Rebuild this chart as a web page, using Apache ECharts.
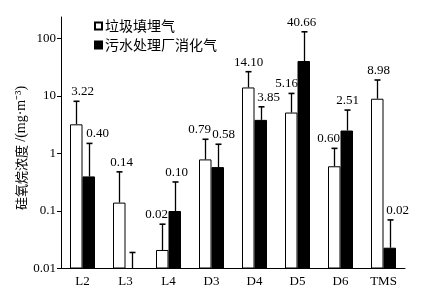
<!DOCTYPE html>
<html><head><meta charset="utf-8">
<script src="https://cdn.jsdelivr.net/npm/echarts@6/dist/echarts.min.js"></script>
<style>html,body{margin:0;padding:0;background:#fff}#c{width:424px;height:296px}</style>
</head><body><div id="c"></div>
<script>
const categories = ['L2', 'L3', 'L4', 'D3', 'D4', 'D5', 'D6', 'TMS'];
const seriesNames = ['垃圾填埋气', '污水处理厂消化气'];
const landfill = [3.22, 0.14, 0.021, 0.79, 14.10, 5.16, 0.60, 8.98];
const landfillUpper = [8.1, 0.48, 0.059, 1.77, 26.5, 11.1, 1.23, 19];
const sewage = [0.40, null, 0.10, 0.58, 3.85, 40.66, 2.51, 0.023];
const sewageUpper = [1.50, 0.019, 0.32, 1.45, 6.5, 131, 5.7, 0.070];
const yTicks = [0.01, 0.1, 1, 10, 100];
const yTickLabels = ['0.01', '0.1', '1', '10', '100'];
const yTitleCn = '硅氧烷浓度';
const yTitleUnit = '/(mg·m⁻³)';

// layout tweaks (label horizontal nudges, px)
const nudgeA = [6, 2, -6, -6, 0, -5, -6, 1];
const nudgeB = [8, 0, 1, 5, 7, -3, 0, 7];
const AXIS_MIN = 0.01, AXIS_MAX = 237;
const BAR_W = 12.5;
const SERIF = '"Liberation Serif", "Times New Roman", serif';

function errRenderer(values, side, nudge) {
  return function (params, api) {
    const i = params.dataIndex;
    const v = values[i];
    const base = (v == null) ? AXIS_MIN : v;
    const up = api.value(1);
    const p0 = api.coord([i, base]);
    const p1 = api.coord([i, up]);
    const x = Math.round(p0[0] + side * BAR_W / 2) + 0.5;
    const children = [
      {type: 'line', shape: {x1: x, y1: p0[1], x2: x, y2: p1[1]}, style: {stroke: '#000', lineWidth: 1.3}},
      {type: 'line', shape: {x1: x - 3, y1: p1[1], x2: x + 3, y2: p1[1]}, style: {stroke: '#000', lineWidth: 1.6}}
    ];
    if (v != null) {
      children.push({type: 'text', x: x + nudge[i], y: p1[1] - 3,
        style: {text: v.toFixed(2), textAlign: 'center', textVerticalAlign: 'bottom',
          fontFamily: SERIF, fontSize: 13, fill: '#000'}});
    }
    return {type: 'group', children: children};
  };
}

const chart = echarts.init(document.getElementById('c'), null, {renderer: 'canvas'});
chart.setOption({
  animation: false,
  backgroundColor: '#fff',
  grid: {left: 61, right: 19, top: 17, bottom: 27.5, containLabel: false},
  legend: {
    orient: 'vertical', left: 89, top: 14, itemWidth: 7, itemHeight: 7, itemGap: 5,
    icon: 'rect', selectedMode: false, data: seriesNames,
    textStyle: {fontFamily: '"Noto Sans CJK SC"', fontSize: 14, color: '#000', padding: [0, 0, 0, -2]}
  },
  graphic: [{
    type: 'text', x: 21, y: 148, rotation: Math.PI / 2,
    style: {
      text: '{cn|' + yTitleCn + '} {u|' + yTitleUnit + '}',
      textAlign: 'center', textVerticalAlign: 'middle', fill: '#000',
      rich: {
        cn: {fontFamily: '"Noto Sans CJK SC"', fontSize: 13, fill: '#000'},
        u: {fontFamily: SERIF, fontSize: 14, fill: '#000'}
      }
    }
  }],
  xAxis: {
    type: 'category', data: categories,
    axisLine: {lineStyle: {color: '#000', width: 1}},
    axisTick: {show: false},
    axisLabel: {color: '#000', fontFamily: SERIF, fontSize: 13, margin: 7}
  },
  yAxis: {
    type: 'log', logBase: 10, min: AXIS_MIN, max: AXIS_MAX, startValue: AXIS_MIN,
    axisLine: {show: true, lineStyle: {color: '#000', width: 1}},
    axisTick: {show: true, length: 4, lineStyle: {color: '#000'}, customValues: yTicks},
    axisLabel: {color: '#000', fontFamily: SERIF, fontSize: 13, margin: 5, customValues: yTicks,
      formatter: function (val) { const k = yTicks.findIndex(t => Math.abs(t - val) / t < 1e-6); return k >= 0 ? yTickLabels[k] : ''; }},
    splitLine: {show: false}
  },
  series: [
    {type: 'bar', name: seriesNames[0], data: landfill, barWidth: BAR_W, barGap: '0%',
      itemStyle: {color: '#fff', borderColor: '#000', borderWidth: 1}},
    {type: 'bar', name: seriesNames[1], data: sewage, barWidth: BAR_W, barGap: '0%',
      itemStyle: {color: '#000', borderColor: '#000', borderWidth: 1}},
    {type: 'custom', name: 'errA', renderItem: errRenderer(landfill, -1, nudgeA),
      data: categories.map((c, i) => [i, landfillUpper[i]]), z: 5},
    {type: 'custom', name: 'errB', renderItem: errRenderer(sewage, 1, nudgeB),
      data: categories.map((c, i) => [i, sewageUpper[i]]), z: 5}
  ]
});
</script>
</body></html>
